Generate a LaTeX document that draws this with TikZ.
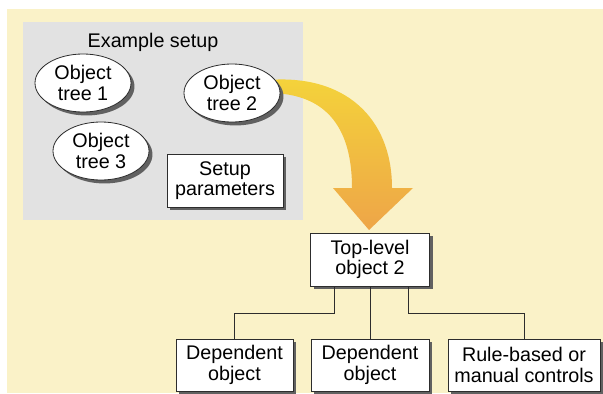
\documentclass[tikz,border=0pt]{standalone}
\usepackage{fontspec}
\setmainfont{Liberation Sans}
\usetikzlibrary{shapes.geometric,shadows,calc}
\definecolor{bgyellow}{RGB}{250,242,200}
\definecolor{panelgray}{RGB}{226,226,226}
\definecolor{linecol}{RGB}{45,45,45}
\definecolor{arrowtop}{RGB}{244,212,58}
\definecolor{arrowbot}{RGB}{238,165,72}
\tikzset{
  shad/.style={general shadow={fill=black!62, shadow xshift=2.6pt, shadow yshift=-2.6pt}},
  objell/.style={ellipse, draw=linecol, line width=0.6pt, fill=white, shad,
    minimum width=72pt, minimum height=43.5pt, inner sep=0pt, align=center,
    font=\fontsize{14.8}{15.5}\selectfont},
  objbox/.style={rectangle, draw=linecol, line width=0.6pt, fill=white, shad,
    minimum height=39pt, inner sep=0pt, align=center,
    font=\fontsize{14.8}{15.5}\selectfont},
  conn/.style={draw=linecol, line width=0.6pt}
}
\begin{document}
\begin{tikzpicture}[x=0.75pt,y=-0.75pt]
\useasboundingbox (0,0) rectangle (603,393);
\fill[white] (0,0) rectangle (603,393);
\fill[bgyellow] (7,9) rectangle (603,393);
\fill[panelgray] (23,22) rectangle (303,220);
% big curved arrow
\shade[top color=arrowtop, bottom color=arrowbot, shading angle=0]
  (268,80) .. controls (345,74) and (392,118) .. (392,188)
  -- (413,188) -- (369,230) -- (333,188) -- (352,188)
  .. controls (352,132) and (330,93) .. (268,93) -- cycle;
\node[font=\fontsize{14.8}{15.5}\selectfont] (title) at (153,42) {Example setup};
\node[objell] (ot1) at (83,83) {Object\\tree 1};
\node[objell] (ot2) at (232,93) {Object\\tree 2};
\node[objell] (ot3) at (101,151) {Object\\tree 3};
\node[objbox, minimum width=87pt, minimum height=39.75pt] (setup) at (225,180.5) {Setup\\parameters};
\node[objbox, minimum width=89.25pt, minimum height=39.75pt] (top) at (370,259.5) {Top-level\\object 2};
\node[objbox, minimum width=87.75pt] (dep1) at (234.5,365) {Dependent\\object};
\node[objbox, minimum width=88.5pt] (dep2) at (370,365) {Dependent\\object};
\node[objbox, minimum width=114pt] (rule) at (524,365) {Rule-based or\\manual controls};
\draw[conn] ([xshift=-27pt]top.south) -- ++(0,27) -| (dep1.north);
\draw[conn] (top.south) -- (dep2.north);
\draw[conn] ([xshift=28.5pt]top.south) -- ++(0,27) -| (rule.north);
\end{tikzpicture}
\end{document}
